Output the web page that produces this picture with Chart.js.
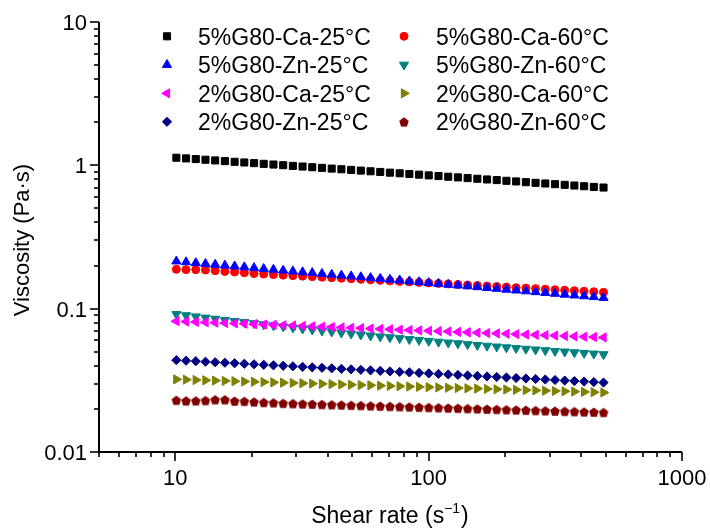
<!DOCTYPE html>
<html>
<head>
<meta charset="utf-8">
<script src="https://cdn.jsdelivr.net/npm/chart.js@4.4.0/dist/chart.umd.min.js"></script>
<style>
  html, body { margin: 0; padding: 0; background: #fff; }
</style>
</head>
<body>
<canvas id="chart" width="710" height="529"></canvas>
<script>
// shear rate sweep (s^-1)
const shearRate = [
  10.10, 11.03, 12.05, 13.16, 14.37, 15.70, 17.15, 18.73, 20.46, 22.34,
  24.41, 26.66, 29.12, 31.80, 34.73, 37.94, 41.44, 45.26, 49.44, 54.00,
  58.98, 64.42, 70.36, 76.85, 83.94, 91.68, 100.1, 109.4, 119.5, 130.5,
  142.5, 155.7, 170.0, 185.7, 202.8, 221.5, 242.0, 264.3, 288.7, 315.3,
  344.4, 376.1, 410.8, 448.7, 490.1
];

// viscosity (Pa·s) for each sample
const ca5At25 = [
  1.130, 1.118, 1.106, 1.094, 1.082, 1.070, 1.058, 1.047, 1.036, 1.024,
  1.013, 1.002, 0.991, 0.981, 0.970, 0.960, 0.949, 0.939, 0.929, 0.919,
  0.909, 0.899, 0.889, 0.880, 0.870, 0.861, 0.851, 0.842, 0.833, 0.824,
  0.815, 0.806, 0.797, 0.789, 0.780, 0.772, 0.763, 0.755, 0.747, 0.739,
  0.731, 0.723, 0.715, 0.707, 0.700
];
const ca5At60 = [
  0.1880, 0.1870, 0.1870, 0.1860, 0.1840, 0.1820, 0.1800, 0.1780, 0.1758, 0.1743,
  0.1729, 0.1714, 0.1700, 0.1686, 0.1672, 0.1658, 0.1644, 0.1630, 0.1617, 0.1603,
  0.1590, 0.1577, 0.1563, 0.1550, 0.1537, 0.1525, 0.1512, 0.1499, 0.1487, 0.1475,
  0.1462, 0.1450, 0.1438, 0.1426, 0.1414, 0.1402, 0.1391, 0.1379, 0.1368, 0.1356,
  0.1345, 0.1334, 0.1323, 0.1312, 0.1301
];
const zn5At25 = [
  0.2140, 0.2112, 0.2084, 0.2056, 0.2029, 0.2002, 0.1976, 0.1949, 0.1924, 0.1898,
  0.1873, 0.1848, 0.1824, 0.1800, 0.1776, 0.1752, 0.1729, 0.1706, 0.1684, 0.1661,
  0.1639, 0.1618, 0.1596, 0.1575, 0.1554, 0.1534, 0.1513, 0.1493, 0.1474, 0.1454,
  0.1435, 0.1416, 0.1397, 0.1379, 0.1360, 0.1342, 0.1325, 0.1307, 0.1290, 0.1273,
  0.1256, 0.1239, 0.1223, 0.1207, 0.1191
];
const zn5At60 = [
  0.0915, 0.0898, 0.0881, 0.0864, 0.0849, 0.0833, 0.0818, 0.0804, 0.0790, 0.0776,
  0.0763, 0.0750, 0.0737, 0.0725, 0.0713, 0.0702, 0.0691, 0.0680, 0.0669, 0.0659,
  0.0649, 0.0639, 0.0630, 0.0621, 0.0612, 0.0604, 0.0595, 0.0587, 0.0579, 0.0572,
  0.0564, 0.0557, 0.0550, 0.0543, 0.0536, 0.0530, 0.0524, 0.0518, 0.0512, 0.0506,
  0.0501, 0.0495, 0.0490, 0.0485, 0.0480
];
const ca2At25 = [
  0.0818, 0.0813, 0.0808, 0.0803, 0.0799, 0.0794, 0.0789, 0.0785, 0.0780, 0.0775,
  0.0771, 0.0766, 0.0762, 0.0757, 0.0753, 0.0748, 0.0744, 0.0739, 0.0735, 0.0731,
  0.0726, 0.0722, 0.0718, 0.0713, 0.0709, 0.0705, 0.0701, 0.0697, 0.0693, 0.0688,
  0.0684, 0.0680, 0.0676, 0.0672, 0.0668, 0.0664, 0.0660, 0.0657, 0.0653, 0.0649,
  0.0645, 0.0641, 0.0637, 0.0634, 0.0630
];
const ca2At60 = [
  0.03210, 0.03195, 0.03179, 0.03164, 0.03149, 0.03134, 0.03119, 0.03104, 0.03090, 0.03075,
  0.03060, 0.03046, 0.03031, 0.03017, 0.03002, 0.02988, 0.02974, 0.02959, 0.02945, 0.02931,
  0.02917, 0.02903, 0.02889, 0.02876, 0.02862, 0.02848, 0.02835, 0.02821, 0.02808, 0.02794,
  0.02781, 0.02768, 0.02754, 0.02741, 0.02728, 0.02715, 0.02702, 0.02689, 0.02676, 0.02664,
  0.02651, 0.02638, 0.02626, 0.02613, 0.02601
];
const zn2At25 = [
  0.04370, 0.04334, 0.04299, 0.04264, 0.04229, 0.04195, 0.04161, 0.04127, 0.04093, 0.04060,
  0.04027, 0.03994, 0.03962, 0.03929, 0.03897, 0.03866, 0.03834, 0.03803, 0.03772, 0.03741,
  0.03711, 0.03681, 0.03651, 0.03621, 0.03592, 0.03562, 0.03533, 0.03505, 0.03476, 0.03448,
  0.03420, 0.03392, 0.03365, 0.03337, 0.03310, 0.03283, 0.03257, 0.03230, 0.03204, 0.03178,
  0.03152, 0.03126, 0.03101, 0.03076, 0.03051
];
const zn2At60 = [
  0.02300, 0.02280, 0.02280, 0.02290, 0.02320, 0.02320, 0.02270, 0.02260, 0.02240, 0.02220,
  0.02210, 0.02190, 0.02180, 0.02170, 0.02161, 0.02151, 0.02142, 0.02132, 0.02123, 0.02113,
  0.02104, 0.02095, 0.02085, 0.02076, 0.02067, 0.02058, 0.02049, 0.02040, 0.02031, 0.02022,
  0.02013, 0.02004, 0.01995, 0.01986, 0.01977, 0.01969, 0.01960, 0.01951, 0.01943, 0.01934,
  0.01925, 0.01917, 0.01908, 0.01900, 0.01891
];

const seriesLabels = [
  '5%G80-Ca-25°C', '5%G80-Ca-60°C',
  '5%G80-Zn-25°C', '5%G80-Zn-60°C',
  '2%G80-Ca-25°C', '2%G80-Ca-60°C',
  '2%G80-Zn-25°C', '2%G80-Zn-60°C'
];
const seriesValues = [ca5At25, ca5At60, zn5At25, zn5At60, ca2At25, ca2At60, zn2At25, zn2At60];

const xTickValues = [10, 100, 1000];
const xTickLabels = ['10', '100', '1000'];
const yTickValues = [0.01, 0.1, 1, 10];
const yTickLabels = ['0.01', '0.1', '1', '10'];

// marker look per series
const colors = ['#000000', '#ff0000', '#0000ff', '#008080', '#ff00ff', '#808000', '#000080', '#800000'];
const rotations = [0, 0, 0, 180, -90, 90, 0, 0];
const radii = [5, 4, 5.3, 5.3, 5.3, 5.3, 4.6, 5];
// paint order (first drawn at the bottom)
const paintOrder = [0, 1, 2, 3, 4, 5, 6, 7];

const FONT = 'Arial, "Liberation Sans", sans-serif';

// no pentagon among the built-in point styles, so draw one on a small canvas
function makePentagon(color, r) {
  const c = document.createElement('canvas');
  const s = Math.ceil(r * 2 + 2);
  c.width = s; c.height = s;
  const g = c.getContext('2d');
  g.fillStyle = color;
  g.beginPath();
  for (let k = 0; k < 5; k++) {
    const a = -Math.PI / 2 + k * 2 * Math.PI / 5;
    const px = s / 2 + r * Math.cos(a);
    const py = s / 2 + 0.6 + r * Math.sin(a);
    if (k === 0) g.moveTo(px, py); else g.lineTo(px, py);
  }
  g.closePath();
  g.fill();
  return c;
}

const pointStyles = ['rect', 'circle', 'triangle', 'triangle', 'triangle', 'triangle', 'rectRot', makePentagon('#800000', 5)];

const datasets = seriesLabels.map((label, i) => ({
  label: label,
  data: shearRate.map((x, k) => ({ x: x, y: seriesValues[i][k] })),
  showLine: false,
  pointStyle: pointStyles[i],
  rotation: rotations[i],
  pointRadius: radii[i],
  pointBorderWidth: 1,
  backgroundColor: colors[i],
  borderColor: colors[i],
  order: seriesLabels.length - paintOrder[i]
}));

function ticksBetween(lo, hi) {
  const out = [];
  for (let d = Math.pow(10, Math.floor(Math.log10(lo))); d <= hi; d *= 10) {
    for (let k = 1; k <= 9; k++) {
      const v = k * d;
      if (v >= lo * 0.999 && v <= hi * 1.001) out.push({ v: v, major: k === 1 });
    }
  }
  return out;
}

const axesPlugin = {
  id: 'originAxes',
  afterDraw(chart) {
    const ctx = chart.ctx;
    const xs = chart.scales.x, ys = chart.scales.y;
    const area = chart.chartArea;
    const x0 = area.left, y0 = area.bottom;
    ctx.save();
    ctx.strokeStyle = '#000';
    ctx.fillStyle = '#000';

    // axis lines
    ctx.lineWidth = 2;
    ctx.beginPath();
    ctx.moveTo(x0, area.top);
    ctx.lineTo(x0, y0);
    ctx.lineTo(area.right, y0);
    ctx.stroke();

    // ticks
    ctx.lineWidth = 1.6;
    ticksBetween(xs.min, xs.max).forEach(t => {
      const px = Math.round(xs.getPixelForValue(t.v));
      ctx.beginPath();
      ctx.moveTo(px, y0);
      ctx.lineTo(px, y0 + (t.major ? 9 : 5));
      ctx.stroke();
    });
    ticksBetween(ys.min, ys.max).forEach(t => {
      const py = Math.round(ys.getPixelForValue(t.v));
      ctx.beginPath();
      ctx.moveTo(x0, py);
      ctx.lineTo(x0 - (t.major ? 9 : 5), py);
      ctx.stroke();
    });

    // tick labels
    ctx.font = '22px ' + FONT;
    ctx.textBaseline = 'alphabetic';
    ctx.textAlign = 'center';
    xTickValues.forEach((v, i) => {
      ctx.fillText(xTickLabels[i], xs.getPixelForValue(v), 485);
    });
    ctx.textAlign = 'right';
    yTickValues.forEach((v, i) => {
      ctx.fillText(yTickLabels[i], 87, ys.getPixelForValue(v) + 8);
    });

    // x title with superscript
    const mainFont = '23px ' + FONT, supFont = '14px ' + FONT;
    const partA = 'Shear rate (s', partSup = '\u22121', partB = ')';
    ctx.font = mainFont;
    const wA = ctx.measureText(partA).width, wB = ctx.measureText(partB).width;
    ctx.font = supFont;
    const wSup = ctx.measureText(partSup).width;
    let tx = 390 - (wA + wSup + wB + 1) / 2;
    ctx.textAlign = 'left';
    ctx.font = mainFont;
    ctx.fillText(partA, tx, 523);
    tx += wA;
    ctx.font = supFont;
    ctx.fillText(partSup, tx, 513);
    tx += wSup + 1;
    ctx.font = mainFont;
    ctx.fillText(partB, tx, 523);

    // y title
    ctx.save();
    ctx.translate(29, 240);
    ctx.rotate(-Math.PI / 2);
    ctx.textAlign = 'center';
    ctx.font = '22px ' + FONT;
    ctx.fillText('Viscosity (Pa\u00b7s)', 0, 0);
    ctx.restore();

    // legend, two columns
    seriesLabels.forEach((label, i) => {
      const col = i % 2, row = Math.floor(i / 2);
      const my = 36.3 + row * 28.5;
      ctx.fillStyle = colors[i];
      ctx.strokeStyle = colors[i];
      ctx.lineWidth = 1;
      Chart.helpers.drawPoint(ctx, {
        pointStyle: pointStyles[i],
        rotation: rotations[i],
        radius: radii[i],
        borderWidth: 1
      }, col ? 404 : 167, my);
      ctx.fillStyle = '#000';
      ctx.font = '23px ' + FONT;
      ctx.textAlign = 'left';
      ctx.fillText(label, col ? 436 : 198, my + 8.3);
    });
    ctx.restore();
  }
};

new Chart(document.getElementById('chart'), {
  type: 'scatter',
  data: { datasets: datasets },
  options: {
    responsive: false,
    animation: false,
    devicePixelRatio: 1,
    events: [],
    layout: { padding: { left: 99, right: 28, top: 22, bottom: 77 } },
    plugins: {
      legend: { display: false },
      tooltip: { enabled: false }
    },
    scales: {
      x: { type: 'logarithmic', min: 5, max: 1000, display: false },
      y: { type: 'logarithmic', min: 0.01, max: 10, display: false }
    }
  },
  plugins: [axesPlugin]
});
</script>
</body>
</html>
